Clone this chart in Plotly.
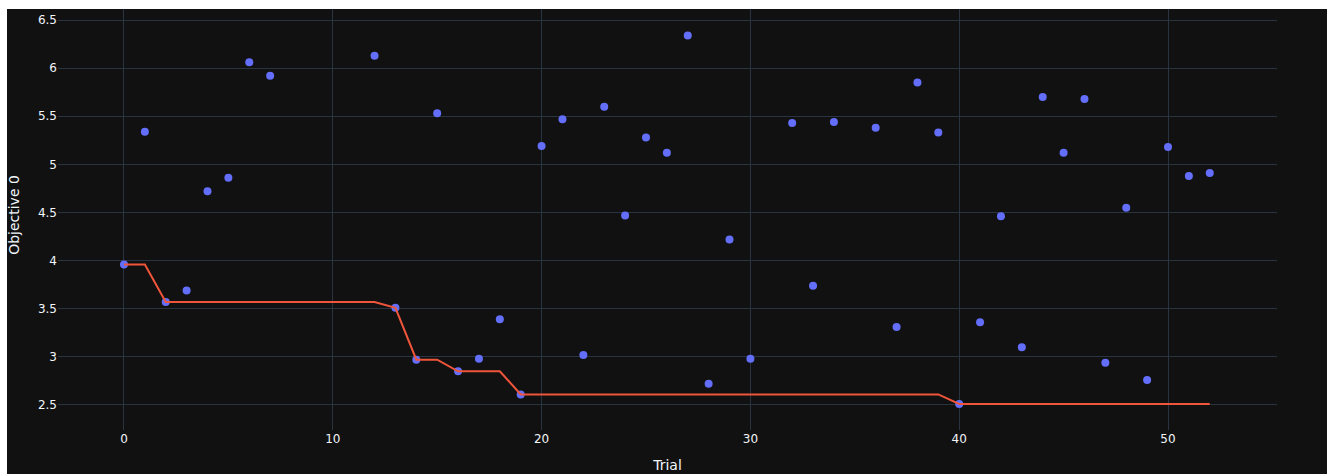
import plotly.graph_objects as go

# Completed trials and their objective values
trials = [0, 1, 2, 3, 4, 5, 6, 7, 12, 13, 14, 15, 16, 17, 18, 19, 20, 21, 22, 23,
          24, 25, 26, 27, 28, 29, 30, 32, 33, 34, 36, 37, 38, 39, 40, 41, 42, 43,
          44, 45, 46, 47, 48, 49, 50, 51, 52]
objective = [3.96, 5.34, 3.57, 3.69, 4.72, 4.86, 6.06, 5.92, 6.13, 3.51, 2.97, 5.53,
             2.85, 2.98, 3.39, 2.61, 5.19, 5.47, 3.02, 5.60, 4.47, 5.28, 5.12, 6.34,
             2.72, 4.22, 2.98, 5.43, 3.74, 5.44, 5.38, 3.31, 5.85, 5.33, 2.51, 3.36,
             4.46, 3.10, 5.70, 5.12, 5.68, 2.94, 4.55, 2.76, 5.18, 4.88, 4.91]

# Best value found so far, trial by trial
best_so_far = []
current = None
for v in objective:
    current = v if current is None else min(current, v)
    best_so_far.append(current)

fig = go.Figure()
fig.add_trace(go.Scatter(
    x=trials, y=objective, mode="markers", name="Objective Value",
    marker=dict(color="#636efa", size=8),
))
fig.add_trace(go.Scatter(
    x=trials, y=best_so_far, mode="lines", name="Best Value",
    line=dict(color="#EF553B", width=2),
))

fig.update_layout(
    template="plotly_dark",
    width=1327, height=474,
    margin=dict(l=58, r=50, t=0, b=44),
    showlegend=False,
    font=dict(family="DejaVu Sans", size=12),
    paper_bgcolor="rgb(17,17,17)",
    plot_bgcolor="rgb(17,17,17)",
    xaxis=dict(title=dict(text="Trial", standoff=15), range=[-3.16, 55.22],
               tickvals=[0, 10, 20, 30, 40, 50], zeroline=False),
    yaxis=dict(title=dict(text="Objective 0"), range=[2.24, 6.708],
               tickvals=[2.5, 3, 3.5, 4, 4.5, 5, 5.5, 6, 6.5], zeroline=False),
    shapes=[
        dict(type="rect", xref="paper", yref="paper", x0=-0.1, x1=1.1,
             y0=1.0 - 9 / 430, y1=1.05, fillcolor="white", line=dict(width=0),
             layer="above"),
        dict(type="rect", xref="paper", yref="paper", x0=-0.06, x1=-51 / 1219,
             y0=-0.2, y1=1.05, fillcolor="white", line=dict(width=0),
             layer="above"),
    ],
)

fig.write_html("out.html")
